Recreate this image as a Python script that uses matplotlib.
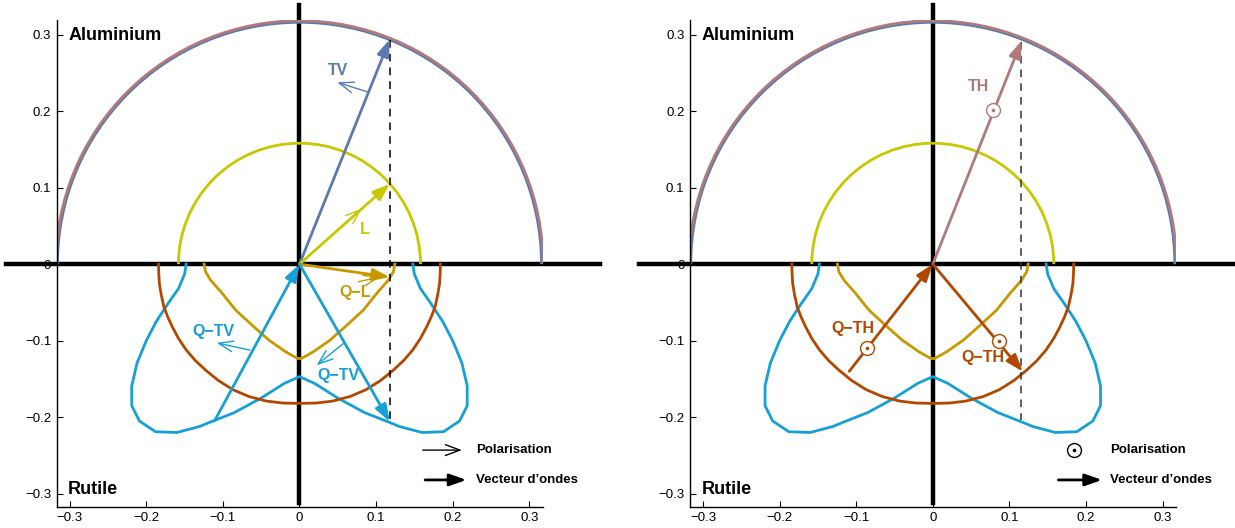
import numpy as np
import matplotlib
matplotlib.use("Agg")
import matplotlib.pyplot as plt
from matplotlib.patches import Arc

plt.rcParams['font.family'] = ['Liberation Sans', 'DejaVu Sans']

# ---------------- data ----------------
ticks = [-0.3, -0.2, -0.1, 0.0, 0.1, 0.2, 0.3]
tick_labels = ['\u22120.3', '\u22120.2', '\u22120.1', '0', '0.1', '0.2', '0.3']

# Aluminium (isotropic) slowness radii
r_al_tv = 0.316
r_al_th = 0.318
r_al_l = 0.158

# Rutile curves, right half (mirrored for the left half)
qtv_x = [0.148, 0.150, 0.158, 0.172, 0.187, 0.200, 0.212, 0.219, 0.219, 0.209,
         0.188, 0.160, 0.130, 0.118, 0.085, 0.050, 0.020, 0.0]
qtv_y = [0.0, -0.013, -0.032, -0.052, -0.075, -0.100, -0.129, -0.159, -0.185, -0.205,
         -0.219, -0.220, -0.212, -0.207, -0.194, -0.175, -0.156, -0.147]

qth_x = [0.184, 0.1838, 0.183, 0.1805, 0.177, 0.172, 0.166, 0.158, 0.148, 0.136,
         0.122, 0.106, 0.087, 0.066, 0.043, 0.022, 0.0]
qth_y = [0.0, -0.010, -0.025, -0.040, -0.056, -0.069, -0.082, -0.097, -0.112, -0.126,
         -0.139, -0.152, -0.164, -0.173, -0.179, -0.1815, -0.182]

ql_x = [0.1245, 0.1226, 0.116, 0.101, 0.0834, 0.0617, 0.0399, 0.018, 0.003, 0.0]
ql_y = [0.0, -0.010, -0.021, -0.038, -0.060, -0.080, -0.0993, -0.1146, -0.123, -0.1235]

# wave vectors (tail -> head)
k_tv = [(0.0, 0.0), (0.118, 0.294)]
k_l = [(0.0, 0.0), (0.118, 0.105)]
k_ql = [(0.0, 0.0), (0.118, -0.017)]
k_qtv_left = [(-0.111, -0.205), (0.0, 0.0)]
k_qtv_right = [(0.0, 0.0), (0.118, -0.206)]
k_th = [(0.0, 0.0), (0.116, 0.292)]
k_qth_left = [(-0.109, -0.140), (0.0, 0.0)]
k_qth_right = [(0.0, 0.0), (0.1175, -0.1405)]

# polarisation arrows (tail -> head)
p_tv = [(0.0886, 0.2252), (0.0494, 0.2375)]
p_l = [(0.057, 0.051), (0.081, 0.0725)]
p_ql = [(0.0769, -0.0231), (0.105, -0.0166)]
p_qtv_left = [(-0.0647, -0.1124), (-0.108, -0.1029)]
p_qtv_right = [(0.0573, -0.1037), (0.0225, -0.132)]

# polarisation (out of plane) markers, right panel
pol_th = (0.079, 0.202)
pol_qth_left = (-0.086, -0.109)
pol_qth_right = (0.0866, -0.100)

dash_x_left = 0.118
dash_y_left = (0.293, -0.206)
dash_x_right = 0.1157
dash_y_right = (0.290, -0.204)

# ---------------- styles ----------------
c_tv = '#5b7ab0'
c_th = '#b07a7a'
c_l = '#c8c800'
c_ql = '#c99800'
c_qth = '#b24800'
c_qtv = '#16a0d6'

fig = plt.figure(figsize=(12.35, 5.28), dpi=100)
xlim = (-0.317, 0.318)
ylim = (-0.317, 0.319)
axL = fig.add_axes([0.0459, 0.0403, 0.3938, 0.9218])
axR = fig.add_axes([0.5587, 0.0403, 0.3938, 0.9218])


def mirror(xs, ys):
    xs = np.asarray(xs); ys = np.asarray(ys)
    X = np.concatenate([-xs, xs[::-1]])
    Y = np.concatenate([ys, ys[::-1]])
    return X, Y


def kvec(ax, seg, color):
    ax.annotate('', xy=seg[1], xytext=seg[0],
                arrowprops=dict(arrowstyle='-|>,head_length=0.85,head_width=0.3',
                                color=color, lw=2.0, shrinkA=0, shrinkB=0,
                                mutation_scale=12),
                zorder=5)


def pvec(ax, seg, color):
    ax.annotate('', xy=seg[1], xytext=seg[0],
                arrowprops=dict(arrowstyle='->,head_length=0.8,head_width=0.3',
                                color=color, lw=1.0, shrinkA=0, shrinkB=0,
                                mutation_scale=13),
                zorder=6)


def polmark(ax, pt, color):
    ax.plot([pt[0]], [pt[1]], marker='o', ms=10, mfc='white', mec=color,
            mew=1.0, zorder=7, clip_on=False)
    ax.plot([pt[0]], [pt[1]], marker='o', ms=1.6, mfc=color, mec=color,
            zorder=8, clip_on=False)


for ax in (axL, axR):
    ax.set_xlim(*xlim)
    ax.set_ylim(*ylim)
    for s in ('top', 'right'):
        ax.spines[s].set_visible(False)
    ax.spines['left'].set_linewidth(1.0)
    ax.spines['bottom'].set_linewidth(1.0)
    ax.set_xticks(ticks)
    ax.set_xticklabels(tick_labels)
    ax.set_yticks(ticks)
    ax.set_yticklabels(tick_labels)
    ax.tick_params(direction='in', length=4, width=0.8, labelsize=9.5, pad=4)
    ax.patch.set_alpha(0)

    # thick reference axes
    ax.plot([-0.383, 0.392], [0, 0], color='black', lw=3.2, clip_on=False, zorder=1)
    ax.plot([0, 0], [-0.312, 0.338], color='black', lw=3.2, clip_on=False, zorder=1)

    # aluminium
    ax.add_patch(Arc((0, 0), 2 * r_al_tv, 2 * r_al_tv, theta1=0, theta2=180,
                     color=c_tv, lw=2.0, zorder=2))
    ax.add_patch(Arc((0, 0), 2 * r_al_th, 2 * r_al_th, theta1=0, theta2=180,
                     color=c_th, lw=2.0, zorder=2))
    ax.add_patch(Arc((0, 0), 2 * r_al_l, 2 * r_al_l, theta1=0, theta2=180,
                     color=c_l, lw=2.0, zorder=2))

    # rutile
    X, Y = mirror(qtv_x, qtv_y)
    ax.plot(X, Y, color=c_qtv, lw=2.0, zorder=2)
    X, Y = mirror(qth_x, qth_y)
    ax.plot(X, Y, color=c_qth, lw=2.0, zorder=2)
    X, Y = mirror(ql_x, ql_y)
    ax.plot(X, Y, color=c_ql, lw=2.0, zorder=2)

    ax.text(-0.302, 0.299, 'Aluminium', fontsize=13, fontweight='bold',
            ha='left', va='center')
    ax.text(-0.302, -0.2945, 'Rutile', fontsize=13, fontweight='bold',
            ha='left', va='center')

# ----- left panel -----
axL.plot([dash_x_left, dash_x_left], dash_y_left, color='black', lw=1.1,
         ls=(0, (5, 4)), zorder=3)
kvec(axL, k_tv, c_tv)
kvec(axL, k_l, c_l)
kvec(axL, k_ql, c_ql)
kvec(axL, k_qtv_left, c_qtv)
kvec(axL, k_qtv_right, c_qtv)
pvec(axL, p_tv, c_tv)
pvec(axL, p_l, c_l)
pvec(axL, p_ql, c_ql)
pvec(axL, p_qtv_left, c_qtv)
pvec(axL, p_qtv_right, c_qtv)

lab = dict(fontsize=11.5, fontweight='bold', ha='center', va='center', zorder=9)
axL.text(0.0507, 0.2536, 'TV', color=c_tv, **lab)
axL.text(0.0846, 0.045, 'L', color=c_l, **lab)
axL.text(0.0725, -0.0375, 'Q\u2212L', color=c_ql, **lab)
axL.text(-0.1125, -0.0885, 'Q\u2212TV', color=c_qtv, **lab)
axL.text(0.0507, -0.145, 'Q\u2212TV', color=c_qtv, **lab)

# legend left
pvec(axL, [(0.161, -0.243), (0.212, -0.243)], 'black')
kvec(axL, [(0.164, -0.282), (0.218, -0.282)], 'black')
axL.text(0.231, -0.243, 'Polarisation', fontsize=9.5, fontweight='bold',
         ha='left', va='center')
axL.text(0.231, -0.282, 'Vecteur d\u2019ondes', fontsize=9.5, fontweight='bold',
         ha='left', va='center')

# ----- right panel -----
axR.plot([dash_x_right, dash_x_right], dash_y_right, color='#333333', lw=1.1,
         ls=(0, (5, 4)), zorder=3)
kvec(axR, k_th, c_th)
kvec(axR, k_qth_left, c_qth)
kvec(axR, k_qth_right, c_qth)
polmark(axR, pol_th, c_th)
polmark(axR, pol_qth_left, c_qth)
polmark(axR, pol_qth_right, c_qth)
axR.text(0.0595, 0.2315, 'TH', color=c_th, **lab)
axR.text(-0.104, -0.084, 'Q\u2212TH', color=c_qth, **lab)
axR.text(0.066, -0.122, 'Q\u2212TH', color=c_qth, **lab)

# legend right
polmark(axR, (0.184, -0.243), 'black')
kvec(axR, [(0.164, -0.282), (0.221, -0.282)], 'black')
axR.text(0.231, -0.243, 'Polarisation', fontsize=9.5, fontweight='bold',
         ha='left', va='center')
axR.text(0.231, -0.282, 'Vecteur d\u2019ondes', fontsize=9.5, fontweight='bold',
         ha='left', va='center')

fig.savefig('out.png', dpi=100)
